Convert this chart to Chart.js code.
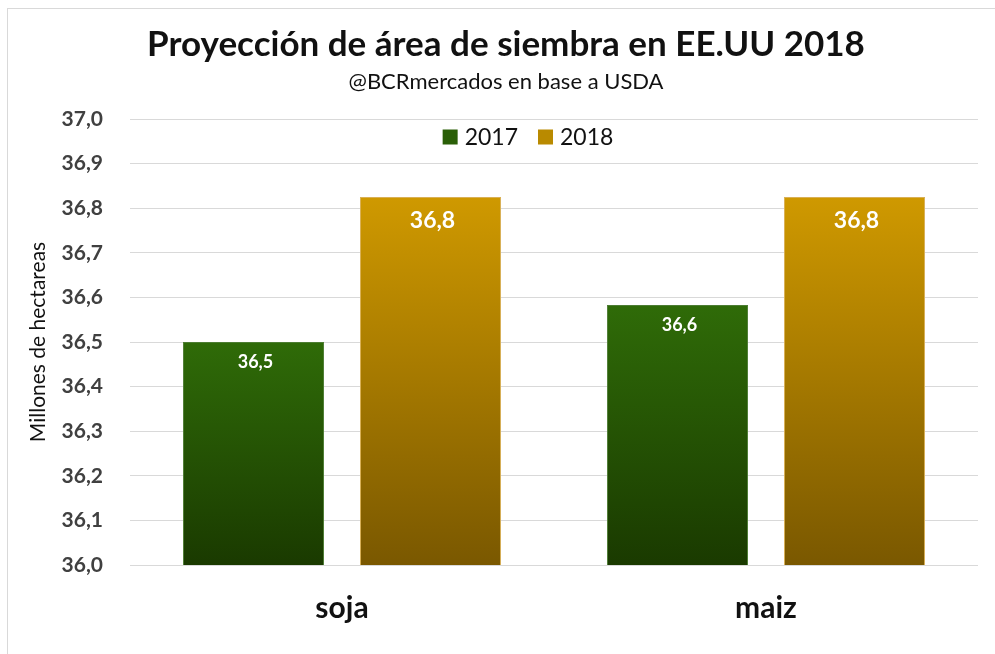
<!DOCTYPE html>
<html>
<head>
<meta charset="utf-8">
<script src="https://cdn.jsdelivr.net/npm/chart.js@4/dist/chart.umd.min.js"></script>
<style>
  html, body { margin: 0; padding: 0; background: #ffffff; overflow: hidden; }
  #frame { position: absolute; left: 7px; top: 8px; width: 1000px; height: 700px; border: 1px solid #d9d9d9; box-sizing: border-box; }
  #wrap { position: absolute; left: 0; top: 0; width: 995px; height: 654px; }
</style>
</head>
<body>
<div id="frame"></div>
<div id="wrap"><canvas id="c" width="995" height="654"></canvas></div>
<script>
const categories = ['soja', 'maiz'];
const seriesNames = ['2017', '2018'];
const values2017 = [36.5, 36.583];
const values2018 = [36.825, 36.825];
const yTicks = [36.0, 36.1, 36.2, 36.3, 36.4, 36.5, 36.6, 36.7, 36.8, 36.9, 37.0];

const FONT = 'Lato, "Open Sans", sans-serif';
const legendColors = ['#2a5f07', '#b98a00'];

function gradientFor(top, bottom, solid) {
  return function (ctx) {
    if (ctx.type !== 'data') return solid;
    const chart = ctx.chart;
    const area = chart.chartArea;
    if (!area) return solid;
    const y = chart.scales.y;
    const yTop = y.getPixelForValue(ctx.parsed ? ctx.parsed.y : ctx.raw);
    const yBot = y.getPixelForValue(y.min);
    if (!isFinite(yTop) || !isFinite(yBot)) return solid;
    const g = chart.ctx.createLinearGradient(0, yTop, 0, yBot);
    g.addColorStop(0, top);
    g.addColorStop(1, bottom);
    return g;
  };
}

const valueLabels = {
  id: 'valueLabels',
  afterDatasetsDraw(chart) {
    const ctx = chart.ctx;
    const sizes = [18, 23];
    const offs = [20, 24];
    chart.data.datasets.forEach((ds, di) => {
      const meta = chart.getDatasetMeta(di);
      meta.data.forEach((bar, i) => {
        const v = ds.data[i];
        const txt = v.toFixed(1).replace('.', ',');
        ctx.save();
        ctx.font = 'bold ' + sizes[di] + 'px ' + FONT;
        ctx.fillStyle = '#ffffff';
        ctx.textAlign = 'center';
        ctx.textBaseline = 'middle';
        ctx.fillText(txt, bar.x + 2, bar.y + offs[di]);
        ctx.restore();
      });
    });
  }
};

const innerLegend = {
  id: 'innerLegend',
  afterDraw(chart) {
    const ctx = chart.ctx;
    const area = chart.chartArea;
    ctx.save();
    ctx.font = '23px ' + FONT;
    ctx.textBaseline = 'middle';
    ctx.textAlign = 'left';
    const box = 15, gapText = 7, gapItem = 20;
    const items = chart.data.datasets.map((ds, i) => ({ text: ds.label, color: legendColors[i], w: ctx.measureText(ds.label).width }));
    let total = 0;
    items.forEach((it, i) => { total += box + gapText + it.w + (i < items.length - 1 ? gapItem : 0); });
    let x = (area.left + area.right) / 2 - 26 - total / 2;
    const cy = area.top + 18;
    items.forEach((it) => {
      ctx.fillStyle = it.color;
      ctx.fillRect(x, cy - box / 2, box, box);
      x += box + gapText;
      ctx.fillStyle = '#111111';
      ctx.fillText(it.text, x, cy + 1);
      x += it.w + gapItem;
    });
    ctx.restore();
  }
};

// shift the title and subtitle blocks so they centre like the reference
const shiftTitles = {
  id: 'shiftTitles',
  afterLayout(chart) {
    chart.boxes.forEach((b) => {
      if (b && b.options && typeof b.options.text === 'string' && b.position === 'top' && !b.legendItems) {
        b.left += 34;
      }
    });
  }
};

new Chart(document.getElementById('c'), {
  type: 'bar',
  data: {
    labels: categories,
    datasets: [
      {
        label: seriesNames[0],
        data: values2017,
        backgroundColor: gradientFor('#2f6b08', '#1a3a00', '#255a05'),
        borderColor: '#4d7d33',
        borderWidth: 1,
        categoryPercentage: 0.835,
        barPercentage: 0.797
      },
      {
        label: seriesNames[1],
        data: values2018,
        backgroundColor: gradientFor('#cf9900', '#7a5800', '#b88800'),
        borderColor: '#d9b055',
        borderWidth: 1,
        categoryPercentage: 0.835,
        barPercentage: 0.797
      }
    ]
  },
  options: {
    responsive: false,
    animation: false,
    devicePixelRatio: 1,
    layout: { padding: { left: 0, right: 17, top: 0, bottom: 3 } },
    plugins: {
      title: {
        display: true,
        text: 'Proyección de área de siembra en EE.UU 2018',
        color: '#111111',
        font: { family: FONT, size: 35, weight: 'bold' },
        padding: { top: 24, bottom: 3 }
      },
      subtitle: {
        display: true,
        text: '@BCRmercados en base a USDA',
        color: '#111111',
        font: { family: FONT, size: 22, weight: 'normal' },
        padding: { top: 0, bottom: 23.6 }
      },
      legend: { display: false },
      tooltip: { enabled: false }
    },
    scales: {
      x: {
        grid: { display: false, drawTicks: false },
        border: { display: false },
        ticks: {
          color: '#111111',
          padding: 25,
          font: { family: FONT, size: 30, weight: 'bold' }
        }
      },
      y: {
        min: 36.0,
        max: 37.0,
        afterFit(scale) { scale.width = 130; },
        afterBuildTicks(scale) { scale.ticks = yTicks.map(v => ({ value: v })); },
        grid: { color: '#d9d9d9', lineWidth: 1, drawTicks: false },
        border: { display: false },
        ticks: {
          color: '#404040',
          padding: 27,
          font: { family: FONT, size: 21, weight: 'bold' },
          callback: (v) => Number(v).toFixed(1).replace('.', ',')
        },
        title: {
          display: true,
          text: 'Millones de hectareas',
          color: '#111111',
          font: { family: FONT, size: 21 },
          padding: { top: 26, bottom: 0 }
        }
      }
    }
  },
  plugins: [valueLabels, innerLegend, shiftTitles]
});
</script>
</body>
</html>
